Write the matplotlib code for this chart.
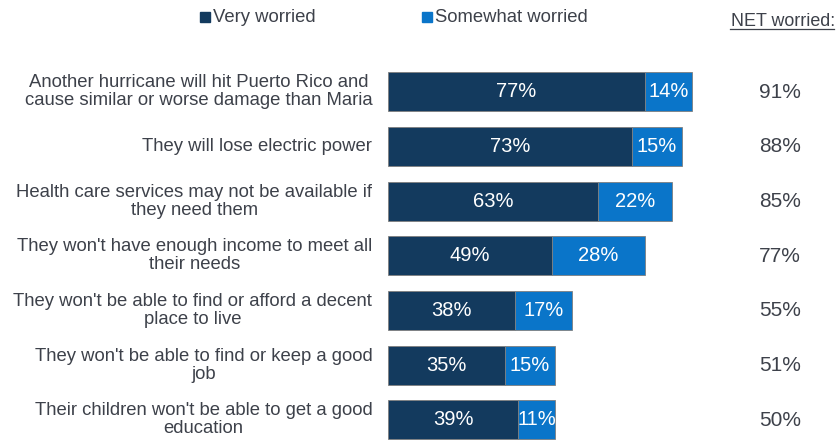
import numpy as np
import matplotlib.pyplot as plt
from matplotlib.patches import Rectangle

plt.rcParams['font.family'] = ['Liberation Sans', 'DejaVu Sans']

labels = [
    "Another hurricane will hit Puerto Rico and\ncause similar or worse damage than Maria",
    "They will lose electric power",
    "Health care services may not be available if\nthey need them",
    "They won't have enough income to meet all\ntheir needs",
    "They won't be able to find or afford a decent\nplace to live",
    "They won't be able to find or keep a good\njob",
    "Their children won't be able to get a good\neducation",
]
very = [77, 73, 63, 49, 38, 35, 39]
somewhat = [14, 15, 22, 28, 17, 15, 11]
net = [91, 88, 85, 77, 55, 51, 50]

dark = '#133a5e'
blue = '#0a75c9'
txt = '#3d414a'

fig = plt.figure(figsize=(8.38, 4.40), dpi=100)
ax = fig.add_axes([388 / 838, 0, 334 / 838, 376 / 440])
y = np.arange(len(labels))
ax.barh(y, very, height=0.71, color=dark, edgecolor='#7f7f7f', linewidth=0.6)
ax.barh(y, somewhat, left=very, height=0.71, color=blue, edgecolor='#7f7f7f', linewidth=0.6)
ax.set_xlim(0, 100)
ax.set_ylim(6.37, -0.51)
ax.axis('off')

for i in y:
    ax.text(very[i] / 2, i, f"{very[i]}%", color='white', fontsize=14.5,
            ha='center', va='center')
    ax.text(very[i] + somewhat[i] / 2, i, f"{somewhat[i]}%", color='white',
            fontsize=14.5, ha='center', va='center')
    ax.text(-4.7, i, labels[i], color=txt, fontsize=13.3, ha='right',
            va='center', multialignment='center', linespacing=1.08)
    ax.text(780 / 838, 1 - (92 + 54.67 * i) / 440, f"{net[i]}%", color=txt,
            fontsize=15, ha='center', va='center', transform=fig.transFigure)

# legend drawn by hand along the top
fig.add_artist(Rectangle((200 / 838, 1 - 22.5 / 440), 10 / 838, 10 / 440,
                         transform=fig.transFigure, color=dark))
fig.text(213 / 838, 1 - 17 / 440, "Very worried", color=txt, fontsize=13.3,
         va='center', ha='left')
fig.add_artist(Rectangle((422 / 838, 1 - 22.5 / 440), 10 / 838, 10 / 440,
                         transform=fig.transFigure, color=blue))
fig.text(435 / 838, 1 - 17 / 440, "Somewhat worried", color=txt, fontsize=13.3,
         va='center', ha='left')
fig.text(835 / 838, 1 - 21 / 440, "NET worried:", color=txt, fontsize=12.9,
         va='center', ha='right')
fig.add_artist(plt.Line2D([730 / 838, 834 / 838], [1 - 29.5 / 440, 1 - 29.5 / 440],
                          transform=fig.transFigure, color=txt, linewidth=0.9))

fig.savefig('out.png', dpi=100)
